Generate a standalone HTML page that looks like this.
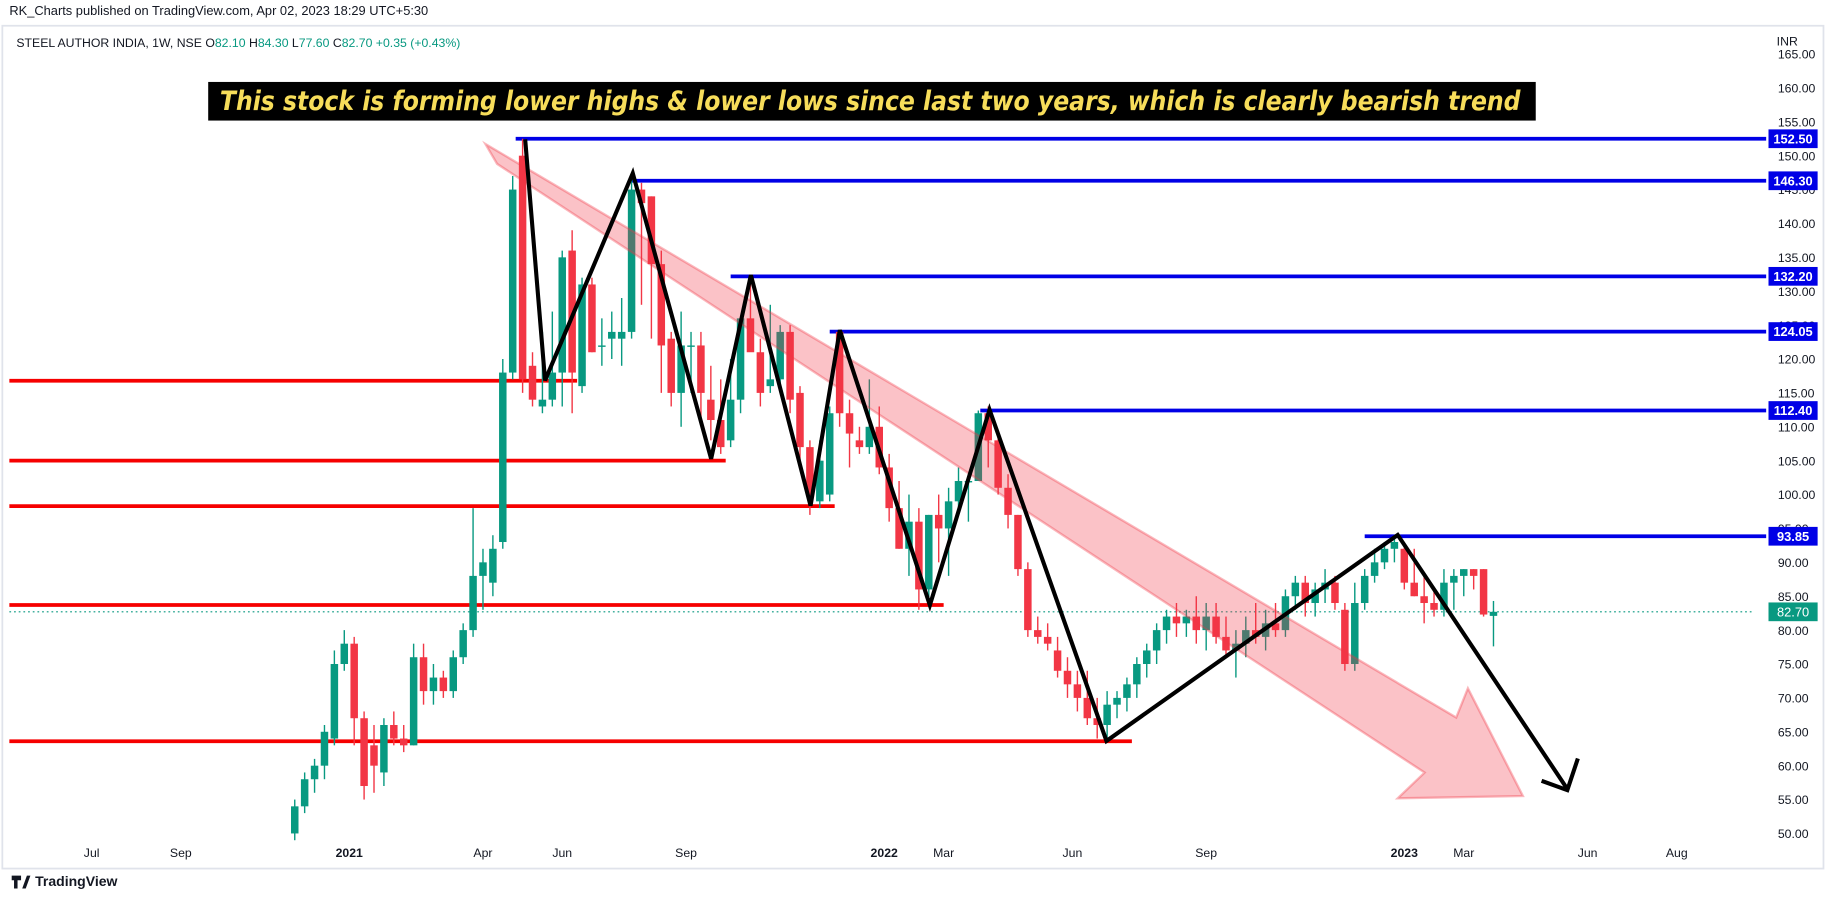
<!DOCTYPE html>
<html><head><meta charset="utf-8"><style>
html,body{margin:0;padding:0;background:#fff;overflow:hidden}
svg{display:block;font-family:"Liberation Sans",sans-serif}
</style></head><body>
<svg id="c" width="1834" height="899" viewBox="0 0 1568 768" preserveAspectRatio="none">
<text x="8" y="13" font-size="11" fill="#131722">RK_Charts published on TradingView.com, Apr 02, 2023 18:29 UTC+5:30</text>
<rect x="2" y="22" width="1557" height="720" fill="none" stroke="#e0e3eb" stroke-width="1.5"/>
<text x="14" y="40" font-size="10.5" fill="#131722">STEEL AUTHOR INDIA, 1W, NSE <tspan fill="#131722">O</tspan><tspan fill="#089981">82.10</tspan> H<tspan fill="#089981">84.30</tspan> L<tspan fill="#089981">77.60</tspan> C<tspan fill="#089981">82.70 +0.35 (+0.43%)</tspan></text>
<text x="1519" y="39" font-size="10.5" fill="#131722">INR</text>
<g id="yaxis"></g><g id="xaxis"></g>
<g id="hlines"></g>
<line x1="8" y1="0" x2="1500" y2="0" id="lastline" stroke="#089981" stroke-width="1" stroke-dasharray="1.5,2.5"/>
<g id="candles"></g>
<polygon points="415,123 1245,613 1255,588 1302,680 1195,682 1218,660 425,140" fill="rgba(242,54,69,0.3)" stroke="rgba(242,54,69,0.35)" stroke-width="2"/>
<polyline points="449,119 466,325 541,148 608,392 642,235 693,432 718,282 795,517 846,350 946,633 1195,457 1340,674" fill="none" stroke="#000" stroke-width="3.5" stroke-linejoin="miter"/>
<polyline points="1349,648 1340,675 1318,667" fill="none" stroke="#000" stroke-width="3.5"/>
<rect x="178" y="70" width="1135" height="33" fill="#000"/>
<text x="188" y="94" textLength="1112" lengthAdjust="spacingAndGlyphs" font-size="23" font-style="italic" font-weight="bold" fill="#f7dd5a" font-family="'DejaVu Sans',sans-serif">This stock is forming lower highs &amp; lower lows since last two years, which is clearly bearish trend</text>
<g id="labels"></g>
<text x="30" y="757" font-size="12" font-weight="bold" fill="#131722">TradingView</text>
<path d="M10 748 h8 v4 h-3 v7 h-3 v-7 h-2z M19 759 l4 -11 h3 l-4 11z" fill="#131722"/>
</svg>
<script>
const NS="http://www.w3.org/2000/svg";
const priceTicks=[50,55,60,65,70,75,80,85,90,95,100,105,110,115,120,125,130,135,140,145,150,155,160,165];
const monthLabels=["Jul","Sep","2021","Apr","Jun","Sep","2022","Mar","Jun","Sep","2023","Mar","Jun","Aug"];
const monthWeeks=[-20.5,-11.5,5.5,19,27,39.5,59.5,65.5,78.5,92,112,118,130.5,139.5];
const opens=[50,54,58,60,64,75,78,67,63,59, 66,64,63,76,71,73,71,76,80,88, 87,93,118,150,119,113,114,118,136,116, 131,122,123,123,124,145,144,134,123,115, 122,122,114,111,108,114,126,121,116,117, 124,115,107,99,100,124,112,108,107,110, 104,98,92,96,86,97,95,99,102,102, 112,108,101,97,89,80,79,77,74,72, 70,67,66,69,70,72,75,77,80,82, 81,82,80,82,79,77,78,80,79,81, 80,85,87,84,86,87,83,75,84,88, 90,92,92,87,85,84,83,87,88,89, 89,82.1];
const highs=[55,59,61,66,77,80,79,68,66,67, 68,66,78,78,75,74,77,81,98,92, 94,120,147,152.5,121,124,127,136,139,132, 132,126,127,129,147,146,144,136,124,127, 124,124,119,117,120,125,132.2,123,128,125, 125,116,108,108,113,124.05,114,110,117,113, 106,102,100,98,97,100,101,104,103,112.4, 113,109,103,97,90,82,81,79,76,74, 74,70,71,71,73,76,78,81,83,84, 83,85,84,84,82,80,82,84,83,84, 86,88,88,87,89,88,84,87,89,92, 93,93.85,93,92,88,86,89,89,89,89, 89,84.3];
const lows=[49,53,56,58,63,74,63,55,56,57, 63,62,63,69,69,70,70,75,79,83, 85,92,117,115,113,112,113,113,112,115, 121,119,120,119,123,128,123,115,113,110, 115,111,108,106,107,112,122,113,115,115, 112,104,97,98,99,110,104,106,106,103, 96,92,88,83,84,90,88,98,96,102, 104,100,95,88,79,78,77,73,70,68, 66,64,64,67,68,70,73,75,78,79, 79,78,77,78,76,73,76,78,77,79, 79,83,82,82,84,83,74,74,83,87, 89,90,86,85,81,82,82,83,85,86, 82,77.6];
const closes=[54,58,60,65,75,78,67,57,60,66, 64,63,76,71,73,71,76,80,88,90, 92,118,145,117,114,114,118,135,118,131, 121,122,124,124,145,143,134,122,115,122, 122,115,111,107,114,126,121,115,117,124, 114,107,100,105,112,112,109,107,110,104, 98,92,96,86,97,95,99,102,102,112, 108,101,97,89,80,79,78,74,72,70, 67,66,69,70,72,75,77,80,82,81, 82,80,82,79,77,78,80,79,81,80, 85,87,84,86,87,84,75,84,88,90, 92,93,87,85,84,83,87,88,89,88, 82.3,82.7];
const levelPrices=[152.5,146.3,132.2,124.05,112.4,93.85];
const levelText=["152.50","146.30","132.20","124.05","112.40","93.85"];
const levelStartWeek=[22.3,34,44,54,69.2,108];
const supportPrices=[116.8,105,98.3,83.7,63.6];
const supportEndWeek=[28.5,43.5,54.5,65.5,84.5];
const lastPrice=82.7, lastText="82.70";

const X0=252, W=8.47;
const xs=i=>X0+i*W;
const ys=p=>712-(p-50)*5.79;
function mk(tag,attrs,parent,text){const e=document.createElementNS(NS,tag);for(const k in attrs)e.setAttribute(k,attrs[k]);if(text!==undefined)e.textContent=text;parent.appendChild(e);return e;}
const gy=document.getElementById('yaxis');
priceTicks.forEach(p=>{
 const t=mk('text',{x:1520,y:ys(p)+4,'font-size':10.5,fill:'#131722'},gy,p.toFixed(2));
 
 
});
const gx=document.getElementById('xaxis');
monthLabels.forEach((m,i)=>{
 const bold=/^\d{4}$/.test(m);
 const t=mk('text',{x:xs(monthWeeks[i]),y:732,'font-size':10.5,'text-anchor':'middle',fill:'#131722','font-weight':bold?'bold':'normal'},gx,m);
 
 
});
const gh=document.getElementById('hlines');
supportPrices.forEach((p,i)=>{
 const l=mk('line',{x1:8,x2:xs(supportEndWeek[i]),y1:ys(p),y2:ys(p),stroke:'#f60000','stroke-width':3.2},gh);
 
 
});
levelPrices.forEach((p,i)=>{
 const l=mk('line',{x1:xs(levelStartWeek[i]),x2:1510,y1:ys(p),y2:ys(p),stroke:'#0000e6','stroke-width':3.2},gh);
 
 
});
const ll=document.getElementById('lastline');
ll.setAttribute('y1',ys(lastPrice));ll.setAttribute('y2',ys(lastPrice));
const gc=document.getElementById('candles');
closes.forEach((c,i)=>{
 const o=opens[i],up=c>=o,col=up?'#089981':'#f23645',x=xs(i);
 const w=mk('line',{x1:x,x2:x,y1:ys(highs[i]),y2:ys(lows[i]),stroke:col,'stroke-width':1.2},gc);
 
 
 const top=ys(Math.max(o,c)),h=Math.max(1.2,Math.abs(ys(o)-ys(c)));
 const r=mk('rect',{x:x-3.2,y:top,width:6.4,height:h,fill:col},gc);
 
 
});
const gl=document.getElementById('labels');
levelPrices.forEach((p,i)=>{
 const r=mk('rect',{x:1512,y:ys(p)-8,width:42,height:16,fill:'#0000e6'},gl);
 
 
 const t=mk('text',{x:1533,y:ys(p)+4,'font-size':11,'font-weight':'bold','text-anchor':'middle',fill:'#fff'},gl,levelText[i]);
 
 
});
const lr=mk('rect',{x:1512,y:ys(lastPrice)-8,width:42,height:16,fill:'#089981'},gl);


const lt=mk('text',{x:1533,y:ys(lastPrice)+4,'font-size':11,'text-anchor':'middle',fill:'#fff'},gl,lastText);


</script>
</body></html>
